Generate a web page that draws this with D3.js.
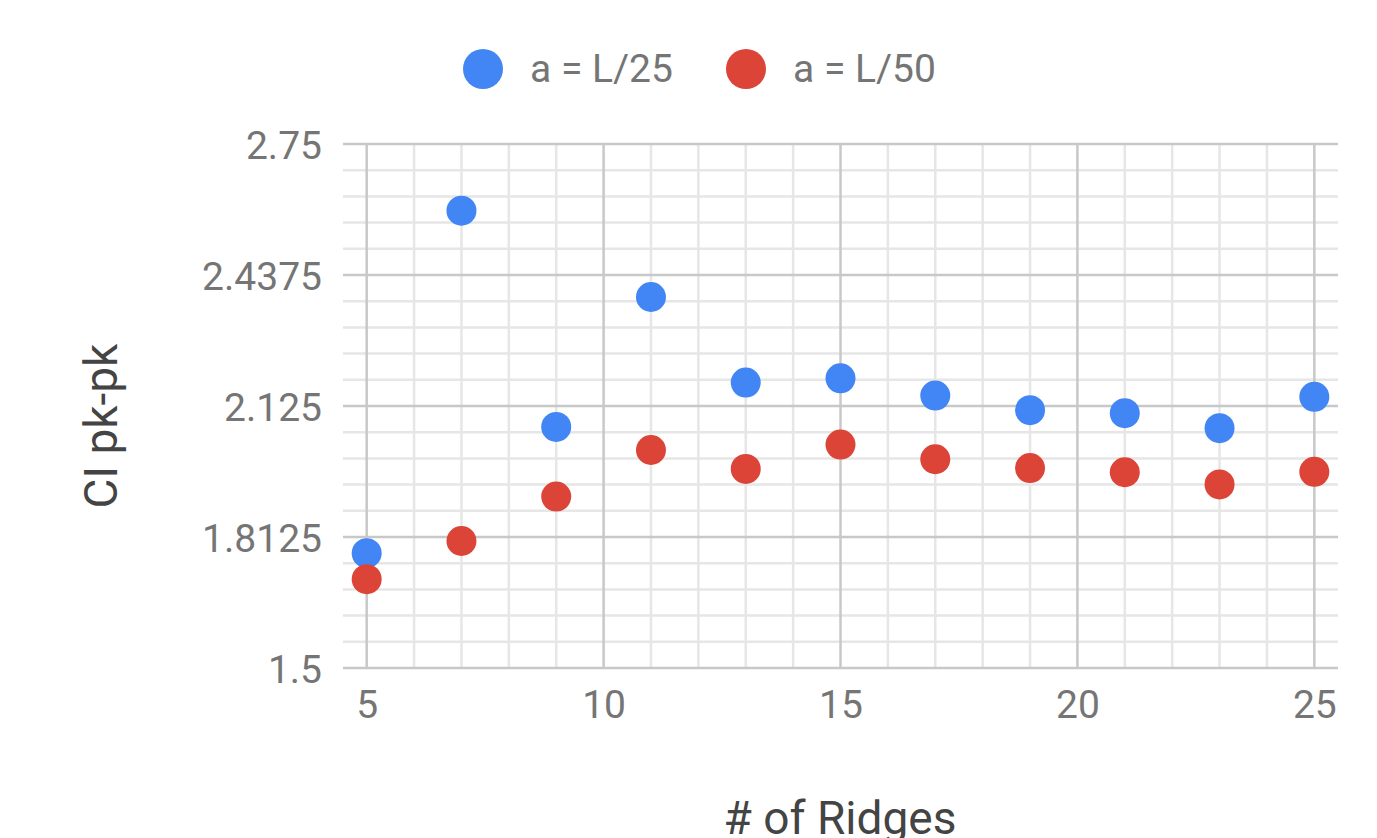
<!DOCTYPE html>
<html>
<head>
<meta charset="utf-8">
<script src="https://cdn.jsdelivr.net/npm/d3@7"></script>
<style>
  body { margin: 0; background: #fff; }
  text { font-family: Roboto, "Noto Sans", sans-serif; }
</style>
</head>
<body>
<div id="chart" style="width:1377px;height:838px;"></div>
<script>
// data
var ridges = [5, 7, 9, 11, 13, 15, 17, 19, 21, 23, 25];
var cpkL25 = [1.774, 2.591, 2.075, 2.385, 2.181, 2.191, 2.150, 2.115, 2.108, 2.072, 2.147];
var cpkL50 = [1.712, 1.803, 1.909, 2.020, 1.975, 2.033, 1.998, 1.977, 1.967, 1.938, 1.968];
var seriesNames = ["a = L/25", "a = L/50"];
var yTicks = [1.5, 1.8125, 2.125, 2.4375, 2.75];
var xTicks = [5, 10, 15, 20, 25];

var colors = ["#4285f4", "#db4437"];

var W = 1377, H = 838;
var margin = {top: 144, right: 39, bottom: 170, left: 343};

var svg = d3.select("#chart").append("svg")
  .attr("width", W)
  .attr("height", H);

var xscale = d3.scaleLinear()
  .domain([4.5, 25.5])
  .range([margin.left, W - margin.right]);
var yscale = d3.scaleLinear()
  .domain([1.5, 2.75])
  .range([H - margin.bottom, margin.top]);

// minor grid
var minorX = d3.range(5, 26, 1).filter(function(d){ return d % 5 != 0; });
var minorY = d3.range(1.5, 2.75001, 0.0625).filter(function(d){
  return Math.abs((d - 1.5) / 0.3125 - Math.round((d - 1.5) / 0.3125)) > 1e-6;
});

svg.append("g").selectAll("line").data(minorX).enter().append("line")
  .attr("x1", function(d){ return xscale(d); })
  .attr("x2", function(d){ return xscale(d); })
  .attr("y1", yscale(2.75)).attr("y2", yscale(1.5))
  .attr("stroke", "#e6e6e6").attr("stroke-width", 2.5);
svg.append("g").selectAll("line").data(minorY).enter().append("line")
  .attr("y1", function(d){ return yscale(d); })
  .attr("y2", function(d){ return yscale(d); })
  .attr("x1", xscale(4.5)).attr("x2", xscale(25.5))
  .attr("stroke", "#e6e6e6").attr("stroke-width", 2.5);

// major grid
svg.append("g").selectAll("line").data(xTicks).enter().append("line")
  .attr("x1", function(d){ return xscale(d); })
  .attr("x2", function(d){ return xscale(d); })
  .attr("y1", yscale(2.75)).attr("y2", yscale(1.5))
  .attr("stroke", "#c8c8c8").attr("stroke-width", 2.5);
svg.append("g").selectAll("line").data(yTicks).enter().append("line")
  .attr("y1", function(d){ return yscale(d); })
  .attr("y2", function(d){ return yscale(d); })
  .attr("x1", xscale(4.5)).attr("x2", xscale(25.5))
  .attr("stroke", "#c8c8c8").attr("stroke-width", 2.5);

// axes (labels only)
var yAxis = svg.append("g")
  .attr("transform", "translate(" + margin.left + ",0)")
  .call(d3.axisLeft(yscale).tickValues(yTicks).tickSize(0).tickPadding(21)
    .tickFormat(function(d){ return String(d); }));
yAxis.select(".domain").remove();
yAxis.selectAll("text")
  .attr("fill", "#757575")
  .style("font-size", "39px")
  .attr("dy", "0.36em");

var xAxis = svg.append("g")
  .attr("transform", "translate(0," + (H - margin.bottom) + ")")
  .call(d3.axisBottom(xscale).tickValues(xTicks).tickSize(0).tickPadding(22)
    .tickFormat(d3.format("d")));
xAxis.select(".domain").remove();
xAxis.selectAll("text")
  .attr("fill", "#757575")
  .style("font-size", "39px");

// points
var data = [];
ridges.forEach(function(r, i){
  data.push({x: r, y: cpkL25[i], s: 0});
});
ridges.forEach(function(r, i){
  data.push({x: r, y: cpkL50[i], s: 1});
});

svg.append("g").selectAll("circle").data(data).enter().append("circle")
  .attr("cx", function(d){ return xscale(d.x); })
  .attr("cy", function(d){ return yscale(d.y); })
  .attr("r", 15)
  .attr("fill", function(d){ return colors[d.s]; });

// legend
var legendX = [483, 746];
var legend = svg.append("g").selectAll("g").data(seriesNames).enter().append("g")
  .attr("transform", function(d, i){ return "translate(" + legendX[i] + ",69)"; });
legend.append("circle")
  .attr("r", 20)
  .attr("fill", function(d, i){ return colors[i]; });
legend.append("text")
  .attr("x", 47)
  .attr("y", 13)
  .attr("fill", "#757575")
  .style("font-size", "39px")
  .text(function(d){ return d; });

// axis titles
svg.append("text")
  .attr("x", 840)
  .attr("y", 834)
  .attr("text-anchor", "middle")
  .attr("fill", "#444")
  .style("font-size", "46px")
  .text("# of Ridges");

svg.append("text")
  .attr("transform", "translate(117,426) rotate(-90)")
  .attr("text-anchor", "middle")
  .attr("fill", "#444")
  .style("font-size", "46px")
  .text("CI pk-pk");
</script>
</body>
</html>
